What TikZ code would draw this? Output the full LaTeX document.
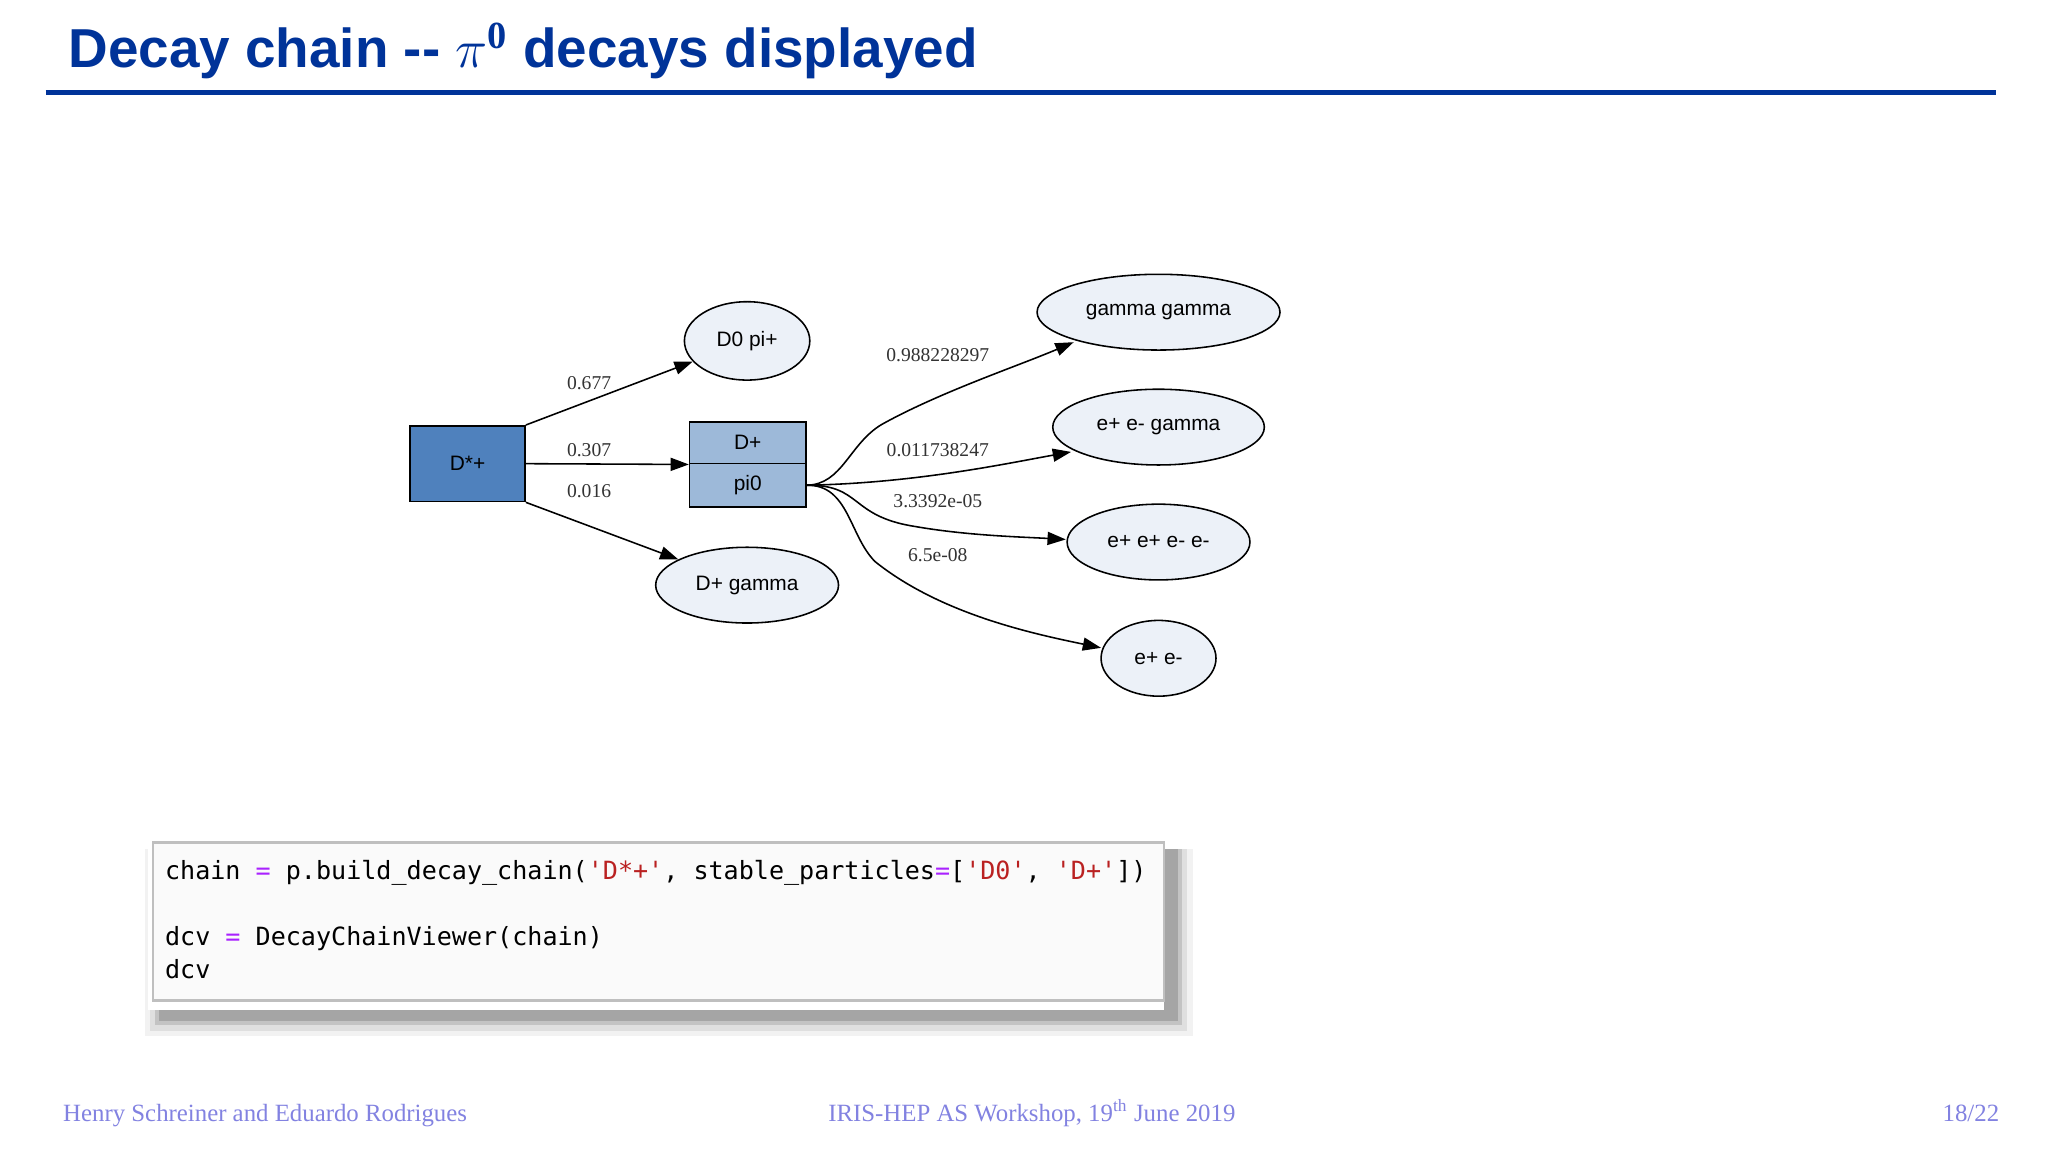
\documentclass[tikz,border=0pt]{standalone}
\usepackage{fontspec}
\setmainfont{Liberation Serif}
\newfontfamily\hsans{Liberation Sans}
\newfontfamily\hmono{DejaVu Sans Mono}
\newfontfamily\hnarrow{Liberation Serif}
\usetikzlibrary{shapes.geometric,shapes.multipart,arrows.meta}
\definecolor{titleblue}{RGB}{0,51,153}
\definecolor{dark}{RGB}{79,129,189}
\definecolor{light}{RGB}{157,185,217}
\definecolor{pale}{RGB}{236,241,248}
\definecolor{foot}{RGB}{130,130,225}
\definecolor{kw}{RGB}{170,34,255}
\definecolor{str}{RGB}{186,33,33}
\begin{document}
\begin{tikzpicture}[x=0.5pt,y=-0.5pt,
  ell/.style={ellipse,draw=black,line width=0.6pt,fill=pale,inner sep=0pt,font=\hsans\fontsize{8}{9}\selectfont},
  box/.style={draw=black,line width=0.6pt,inner sep=0pt,font=\hsans\fontsize{8}{9}\selectfont},
  edge/.style={-{Triangle[length=7pt,width=5pt]},line width=0.6pt},
  lab/.style={font=\hnarrow\fontsize{7.5}{8}\selectfont,text=black!80,inner sep=0pt},
  code/.style={anchor=base west,inner sep=0pt,font=\hmono\fontsize{9.6}{11}\selectfont},
  ft/.style={anchor=base,inner sep=0pt,text=foot,font=\fontsize{9.5}{11}\selectfont}]
\useasboundingbox (0,0) rectangle (1568,882);
\fill[white] (0,0) rectangle (1568,882);
% title
\node[anchor=base west,inner sep=0pt,text=titleblue,font=\hsans\bfseries\fontsize{21}{24}\selectfont] (title) at (52,52) {Decay chain -- $\pi^{\mathbf 0}$ decays displayed};
\draw[titleblue,line width=2pt] (35,71) -- (1528,71);
% nodes
\node[box,fill=dark,minimum width=44pt,minimum height=29pt] (ds) at (358,355) {D*+};
\node[box,fill=light,minimum width=44.5pt,minimum height=16pt] (dp) at (572.5,339) {D+};
\node[box,fill=light,minimum width=44.5pt,minimum height=16.5pt] (pi) at (572.5,371.5) {pi0};
\node[ell,minimum width=48pt,minimum height=30pt] (d0) at (572,261) {D0 pi+};
\node[ell,minimum width=70pt,minimum height=29pt] (dg) at (572,448) {D+ gamma};
\node[ell,minimum width=93pt,minimum height=29pt] (gg) at (887,239) {gamma gamma};
\node[ell,minimum width=81pt,minimum height=29pt] (eeg) at (887,327) {e+ e- gamma};
\node[ell,minimum width=70pt,minimum height=29pt] (eeee) at (887,415) {e+ e+ e- e-};
\node[ell,minimum width=44pt,minimum height=29pt] (ee) at (887,504) {e+ e-};
% edges
\draw[edge] (ds.north east) -- (d0);
\draw[edge] (ds.east) -- (dp.south west);
\draw[edge] (ds.south east) -- (dg);
\coordinate (o) at (pi.east);
\draw[edge] (o) .. controls (645,371) and (650,340) .. (675,325) .. controls (720,300) and (780,280) .. (822,262);
\draw[edge] (o) .. controls (700,370) and (770,355) .. (820,346);
\draw[edge] (o) .. controls (660,371) and (650,395) .. (700,403) .. controls (740,410) and (780,411) .. (816,413);
\draw[edge] (o) .. controls (650,371) and (650,410) .. (670,430) .. controls (720,470) and (790,485) .. (843,496);
% labels
\node[lab] (l1) at (451,293) {0.677};
\node[lab] (l2) at (451,345) {0.307};
\node[lab] (l3) at (451,376) {0.016};
\node[lab] (l4) at (718,272) {0.988228297};
\node[lab] (l5) at (718,345) {0.011738247};
\node[lab] (l6) at (718,384) {3.3392e-05};
\node[lab] (l7) at (718,425) {6.5e-08};
% code box with shadow
\foreach \i/\o in {14/0.05,10/0.08,6/0.12,3/0.15}
  \fill[black,opacity=\o] (125-\i,650) rectangle (891+\i+8,767+\i+12);
\fill[white] (113,634) rectangle (891,773);
\draw[black!25,line width=0.8pt,fill=black!2] (117,645) rectangle (891,766);
\node[code] (c1) at (126,673) {chain {\color{kw}=} p.build\_decay\_chain({\color{str}'D*+'}, stable\_particles{\color{kw}=}[{\color{str}'D0'}, {\color{str}'D+'}])};
\node[code] (c2) at (126,724) {dcv {\color{kw}=} DecayChainViewer(chain)};
\node[code] (c3) at (126,749) {dcv};
% footer
\node[ft,anchor=base west] (f1) at (48,859) {Henry Schreiner and Eduardo Rodrigues};
\node[ft] (f2) at (790,859) {IRIS-HEP AS Workshop, 19\textsuperscript{th} June 2019};
\node[ft,anchor=base east] (f3) at (1531,859) {18/22};
\end{tikzpicture}
\end{document}
